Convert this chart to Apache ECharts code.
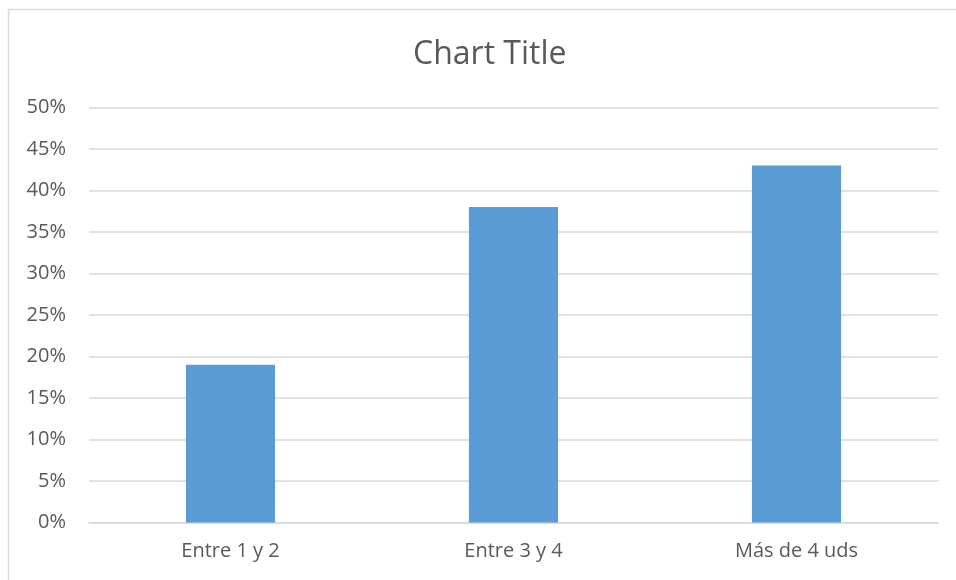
<!DOCTYPE html>
<html><head><meta charset="utf-8">
<script src="https://cdn.jsdelivr.net/npm/echarts@6/dist/echarts.min.js"></script>
<style>html,body{margin:0;padding:0;background:#fff}#c{width:956px;height:580px}</style>
</head><body><div id="c"></div>
<script>
const categories = ['Entre 1 y 2', 'Entre 3 y 4', 'Más de 4 uds'];
const values = [19, 38, 43];
const yTicks = [0, 5, 10, 15, 20, 25, 30, 35, 40, 45, 50];

const chart = echarts.init(document.getElementById('c'));
const font = 'Open Sans';
chart.setOption({
  animation: false,
  backgroundColor: '#fff',
  title: {
    text: 'Chart Title', left: 408, top: 34,
    textStyle: { fontFamily: font, fontSize: 32, fontWeight: 'normal', color: '#595959' }
  },
  graphic: [{
    type: 'rect', shape: { x: 8.5, y: 9.5, width: 960, height: 600 },
    style: { fill: 'none', stroke: '#d9d9d9', lineWidth: 1.5 }, silent: true
  }],
  grid: { left: 89, right: 18, top: 107.5, bottom: 57.5 },
  xAxis: {
    type: 'category', data: categories,
    axisLine: { lineStyle: { color: '#d9d9d9', width: 1.5 } },
    axisTick: { show: false },
    axisLabel: { fontFamily: font, fontSize: 20, color: '#595959', margin: 19 }
  },
  yAxis: {
    type: 'value', min: yTicks[0], max: yTicks[yTicks.length - 1], interval: 5,
    axisLine: { show: false }, axisTick: { show: false },
    splitLine: { lineStyle: { color: '#d9d9d9', width: 1.5 } },
    axisLabel: { fontFamily: font, fontSize: 20, color: '#595959', margin: 23, formatter: v => v + '%' }
  },
  series: [{
    type: 'bar', data: values, barWidth: '31.5%',
    itemStyle: { color: '#5b9bd5' }
  }]
});
</script></body></html>
